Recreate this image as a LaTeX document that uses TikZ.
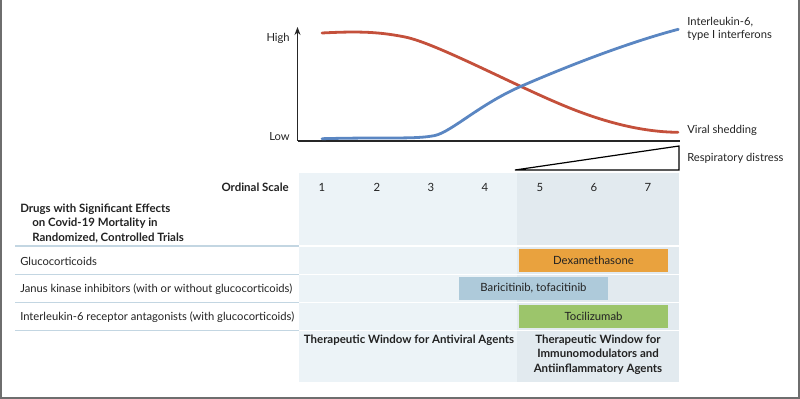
\documentclass[tikz,border=0pt]{standalone}
\usepackage{fontspec}
\setmainfont{Lato}
\usetikzlibrary{arrows.meta}
\definecolor{redc}{HTML}{C4503B}
\definecolor{bluec}{HTML}{5A86C2}
\definecolor{panelL}{HTML}{ECF3F7}
\definecolor{panelR}{HTML}{E2EAEF}
\definecolor{sepc}{HTML}{C3D6E2}
\definecolor{dexa}{HTML}{E9A23E}
\definecolor{bari}{HTML}{AECADA}
\definecolor{toci}{HTML}{9CC56B}
\definecolor{txt}{HTML}{222222}
\definecolor{framec}{HTML}{6E6E6E}
\tikzset{
  lbl/.style={font=\fontsize{8.4}{9.8}\selectfont, text=txt, inner sep=0pt},
  blbl/.style={font=\bfseries\fontsize{8.6}{10.6}\selectfont, text=txt, inner sep=0pt},
  num/.style={font=\fontsize{8.5}{9.8}\selectfont, text=txt, inner sep=0pt},
  bar/.style={inner sep=0pt, font=\fontsize{8.5}{9.8}\selectfont, text=txt, minimum width=111.75pt, minimum height=17.25pt},
  curve/.style={line width=2.1pt, line cap=round},
  axis/.style={line width=0.8pt, draw=black!85},
  rowsep/.style={line width=1.1pt, draw=sepc},
  whitesep/.style={line width=1.3pt, draw=white}
}
\begin{document}
\begin{tikzpicture}[x=0.75pt,y=-0.75pt]
\useasboundingbox (0,0) rectangle (800,399);
% frame
\draw[framec, line width=2pt] (1,0) -- (1,398) -- (799,398) -- (799,0);
% panels
\fill[panelL] (299,173) rectangle (517,382);
\fill[panelR] (517,173) rectangle (679,382);
\foreach \yy in {246,274.5,302.5,330.5} {
  \draw[whitesep] (299,\yy) -- (679,\yy);
  \draw[rowsep] (15,\yy) -- (299,\yy);
}
% axes
\coordinate (orig) at (297.5,141);
\coordinate (ytop) at (297.5,27);
\coordinate (xend) at (680,141);
\draw[axis, -{Stealth[length=6pt,width=4.5pt]}] (orig) -- (ytop);
\draw[axis] (orig) -- (xend);
\node[lbl, anchor=east] (high) at (290,38) {High};
\node[lbl, anchor=east] (low) at (290,137) {Low};
% curves
\draw[curve, redc] (322,33) .. controls (360,31) and (380,32) .. (405,37)
  .. controls (435,43) and (510,83) .. (560,104)
  .. controls (600,121) and (640,132) .. (678,132.3);
\draw[curve, bluec] (322,138.7) .. controls (390,137) and (415,139.5) .. (435,135.5)
  .. controls (452,131.5) and (480,104) .. (521.7,86)
  .. controls (570,65) and (630,42) .. (678.3,29.3);
\node[lbl, anchor=west, align=left] (il6) at (687,29) {Interleukin-6,\\type I interferons};
\node[lbl, anchor=west] (vs) at (687,130) {Viral shedding};
% respiratory distress wedge
\draw[line width=0.9pt, line join=miter] (515,170) -- (679,146) -- (679,170) -- cycle;
\node[lbl, anchor=west] (rd) at (687,158) {Respiratory distress};
% ordinal scale
\node[blbl, anchor=east] (ord) at (289,187) {Ordinal Scale};
\foreach \i/\xx in {1/322,2/377,3/431,4/485,5/540,6/594,7/648} {
  \node[num] (n\i) at (\xx,187) {\i};
}
\node[blbl, anchor=north west, align=left] (drugs) at (20,204) {Drugs with Significant Effects\\\hspace*{9pt}on Covid-19 Mortality in\\\hspace*{9pt}Randomized, Controlled Trials};
\node[lbl, anchor=west] (r1) at (20,261) {Glucocorticoids};
\node[lbl, anchor=west] (r2) at (20,289) {Janus kinase inhibitors (with or without glucocorticoids)};
\node[lbl, anchor=west] (r3) at (20,317) {Interleukin-6 receptor antagonists (with glucocorticoids)};
% bars
\node[bar, fill=dexa] (dex) at (593.5,260.5) {Dexamethasone};
\node[bar, fill=bari] (bar) at (533.5,288.5) {Baricitinib, tofacitinib};
\node[bar, fill=toci] (toc) at (593.5,316.5) {Tocilizumab};
% windows
\node[blbl, anchor=north] (wa) at (409,335) {Therapeutic Window for Antiviral Agents};
\node[blbl, anchor=north, align=center] (wi) at (598,335) {Therapeutic Window for\\Immunomodulators and\\Antiinflammatory Agents};
\end{tikzpicture}
\end{document}
